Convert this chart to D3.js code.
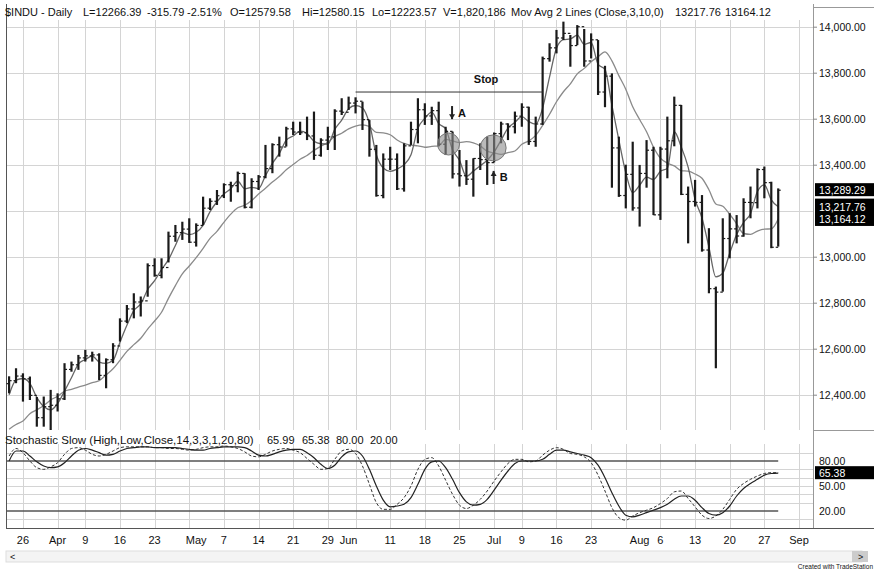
<!DOCTYPE html>
<html>
<head>
<meta charset="utf-8">
<script src="https://cdn.jsdelivr.net/npm/d3@7"></script>
<style>
body { margin: 0; background: #fff; }
text { font-family: "Liberation Sans", Arial, sans-serif; fill: #111; }
</style>
</head>
<body>
<svg id="chart"></svg>
<script>
// ---------------- data ----------------
var dates = ['2007-03-22','2007-03-23','2007-03-26','2007-03-27','2007-03-28','2007-03-29','2007-03-30',
'2007-04-02','2007-04-03','2007-04-04','2007-04-05','2007-04-09','2007-04-10','2007-04-11','2007-04-12','2007-04-13','2007-04-16','2007-04-17','2007-04-18','2007-04-19','2007-04-20','2007-04-23','2007-04-24','2007-04-25','2007-04-26','2007-04-27','2007-04-30',
'2007-05-01','2007-05-02','2007-05-03','2007-05-04','2007-05-07','2007-05-08','2007-05-09','2007-05-10','2007-05-11','2007-05-14','2007-05-15','2007-05-16','2007-05-17','2007-05-18','2007-05-21','2007-05-22','2007-05-23','2007-05-24','2007-05-25','2007-05-29','2007-05-30','2007-05-31',
'2007-06-01','2007-06-04','2007-06-05','2007-06-06','2007-06-07','2007-06-08','2007-06-11','2007-06-12','2007-06-13','2007-06-14','2007-06-15','2007-06-18','2007-06-19','2007-06-20','2007-06-21','2007-06-22','2007-06-25','2007-06-26','2007-06-27','2007-06-28','2007-06-29',
'2007-07-02','2007-07-03','2007-07-05','2007-07-06','2007-07-09','2007-07-10','2007-07-11','2007-07-12','2007-07-13','2007-07-16','2007-07-17','2007-07-18','2007-07-19','2007-07-20','2007-07-23','2007-07-24','2007-07-25','2007-07-26','2007-07-27','2007-07-30','2007-07-31',
'2007-08-01','2007-08-02','2007-08-03','2007-08-06','2007-08-07','2007-08-08','2007-08-09','2007-08-10','2007-08-13','2007-08-14','2007-08-15','2007-08-16','2007-08-17','2007-08-20','2007-08-21','2007-08-22','2007-08-23','2007-08-24','2007-08-27','2007-08-28','2007-08-29'];
var futureDates = ['2007-08-30','2007-08-31','2007-09-04'];

var opens = [12448,12461,12481,12469,12397,12300,12348,
12354,12382,12510,12530,12560,12569,12573,12484,12552,12612,12720,12773,12803,12808,12961,12919,12953,13089,13105,13120,
13063,13136,13211,13241,13265,13313,13309,13362,13215,13327,13347,13383,13487,13477,13556,13542,13539,13525,13441,13507,13521,13633,
13628,13668,13676,13596,13467,13266,13424,13424,13295,13482,13553,13639,13612,13635,13489,13545,13360,13352,13337,13427,13422,
13409,13535,13577,13565,13611,13650,13501,13577,13861,13908,13951,13971,13918,14000,13851,13943,13716,13785,13473,13266,13358,
13212,13362,13463,13182,13468,13504,13658,13271,13240,13236,13029,12861,12846,13079,13121,13090,13236,13235,13379,13322,13041];
var highs = [12480,12515,12493,12479,12390,12392,12421,
12406,12537,12544,12573,12595,12587,12580,12558,12624,12732,12790,12841,12827,12971,12993,12993,13109,13138,13152,13167,
13145,13261,13254,13290,13319,13326,13370,13363,13341,13355,13486,13493,13522,13565,13587,13587,13609,13631,13515,13565,13641,13689,
13696,13693,13674,13594,13486,13449,13478,13449,13493,13587,13689,13667,13652,13674,13565,13544,13464,13420,13428,13493,13522,
13540,13587,13580,13631,13667,13652,13609,13870,13928,13986,14022,13964,14007,13990,13971,13942,13830,13797,13522,13400,13500,
13399,13507,13478,13478,13609,13696,13660,13305,13334,13268,13124,12870,13167,13189,13181,13254,13305,13384,13392,13326,13297];
var lows = [12406,12450,12370,12377,12261,12261,12240,
12327,12377,12500,12508,12544,12544,12464,12428,12537,12631,12711,12732,12740,12826,12913,12906,12975,13065,13073,13060,
13044,13138,13203,13225,13255,13239,13280,13210,13210,13290,13341,13363,13435,13479,13529,13529,13507,13421,13435,13464,13464,13616,
13638,13623,13551,13435,13261,13254,13377,13290,13283,13486,13493,13573,13573,13480,13442,13340,13305,13312,13261,13377,13312,
13410,13493,13507,13536,13565,13486,13478,13573,13848,13884,13942,13826,13920,13826,13862,13703,13650,13300,13260,13210,13200,
13131,13300,13181,13160,13341,13480,13268,13058,13218,13022,12841,12515,12848,12993,13058,13087,13167,13210,13254,13037,13044];
var closes = [12461,12481,12469,12397,12300,12348,12354,
12382,12510,12530,12560,12569,12573,12484,12552,12612,12720,12773,12803,12808,12961,12919,12953,13089,13105,13120,13063,
13136,13211,13241,13265,13313,13309,13362,13215,13327,13347,13383,13487,13477,13556,13542,13539,13525,13441,13507,13521,13633,13628,
13668,13676,13596,13467,13266,13424,13424,13295,13482,13553,13639,13612,13635,13489,13545,13360,13352,13337,13427,13422,13409,
13535,13577,13565,13611,13650,13501,13577,13861,13908,13951,13971,13918,14000,13851,13943,13716,13785,13473,13266,13358,13212,
13362,13463,13182,13468,13504,13658,13271,13240,13236,13029,12861,12846,13079,13121,13090,13236,13235,13379,13322,13041,13289];
// closes before the first visible bar (Mar 9 - Mar 21), only feed the moving averages
var priorCloses = [12276,12318,12075,12134,12160,12111,12226,12289,12448];

// Stochastic Slow: dashed (SlowK) and solid (SlowD)
var slowK = [86,95,90,80,72,70,73,
78,88,95,96,93,88,86,88,92,96,97,97,97,97,96,96,95,95,94,93,
94,96,97,97,98,97,95,91,86,85,88,92,94,95,93,90,83,76,70,71,82,92,
94,89,74,52,30,22,22,28,36,50,70,82,84,74,57,40,27,23,27,34,44,
56,67,77,82,82,79,80,87,93,96,94,89,88,85,78,63,44,24,12,9,14,
18,21,24,29,35,43,44,35,25,15,11,14,22,34,46,53,58,62,65,66,65.99];
var slowD = [80,92,92,86,79,74,72,
73,78,86,93,95,93,90,87,88,92,95,96,97,97,96,96,96,96,95,94,
93,93,95,96,97,97,97,96,92,87,86,88,91,93,94,94,90,84,76,71,75,85,
91,92,86,70,50,33,25,26,28,36,52,70,79,80,72,58,42,31,27,28,34,
45,57,68,77,80,80,80,82,88,93,93,91,89,87,84,75,60,42,26,15,13,
15,18,21,24,28,34,38,38,33,24,17,15,18,26,38,47,53,58,63,65,65.38];

var priceTicks = [12400,12600,12800,13000,13400,13600,13800,14000];
var priceGrid = [12400,12600,12800,13000,13200,13400,13600,13800,14000];
var stochGrid = [10,30,40,50,60,70,90];
var stochLevels = [20,80];
var stochTickVals = [80,50,20];

var gridDates = ['2007-03-26','2007-04-02','2007-04-09','2007-04-16','2007-04-23','2007-04-30','2007-05-07','2007-05-14','2007-05-21','2007-05-29',
'2007-06-04','2007-06-11','2007-06-18','2007-06-25','2007-07-02','2007-07-09','2007-07-16','2007-07-23','2007-07-30','2007-08-06','2007-08-13','2007-08-20','2007-08-27','2007-09-04'];
var labelDates = ['2007-03-26','2007-04-02','2007-04-09','2007-04-16','2007-04-23','2007-05-01','2007-05-07','2007-05-14','2007-05-21','2007-05-29','2007-06-01',
'2007-06-11','2007-06-18','2007-06-25','2007-07-02','2007-07-09','2007-07-16','2007-07-23','2007-08-01','2007-08-06','2007-08-13','2007-08-20','2007-08-27','2007-09-04'];
var labelText = ['26','Apr','9','16','23','May','7','14','21','29','Jun','11','18','25','Jul','9','16','23','Aug','6','13','20','27','Sep'];

var lastBoxes = [13289.29];
var maBoxes = [13217.76, 13164.12];
var stochBox = 65.38;

var titleParts = ['$INDU - Daily','L=12266.39','-315.79','-2.51%','O=12579.58','Hi=12580.15','Lo=12223.57','V=1,820,186','Mov Avg 2 Lines (Close,3,10,0)','13217.76','13164.12'];
var stochParts = ['Stochastic Slow (High,Low,Close,14,3,3,1,20,80)','65.99','65.38','80.00','20.00'];

// ---------------- layout ----------------
var W = 874, H = 571;
var left = 6, axisX = 813;
var priceTop = 20, priceBottom = 430;
var stochTop = 444, stochBottom = 528;

var svg = d3.select('#chart').attr('width', W).attr('height', H);

var x = d3.scalePoint().domain(dates.concat(futureDates)).range([9.1, 799]);
var y = d3.scaleLinear().domain([12400, 14000]).range([394.7, 26.7]);
var ys = d3.scaleLinear().domain([20, 80]).range([511, 461]);

var bars = dates.map(function(d, i) {
    return {date: d, o: opens[i], h: highs[i], l: lows[i], c: closes[i]};
});

// moving averages from the closes
var allCloses = priorCloses.concat(closes);
function movAvg(n) {
    return dates.map(function(d, i) {
        var k = i + priorCloses.length;
        return {date: d, v: d3.mean(allCloses.slice(k - n + 1, k + 1))};
    });
}
var ma3 = movAvg(3), ma10 = movAvg(10);

// ---------------- grid ----------------
var grid = svg.append('g').attr('stroke', '#d4d4d4').attr('stroke-width', 1);
grid.selectAll('.vg').data(gridDates).join('line')
    .attr('x1', function(d) { return Math.round(x(d)) + 0.5; })
    .attr('x2', function(d) { return Math.round(x(d)) + 0.5; })
    .attr('y1', priceTop).attr('y2', priceBottom);
grid.selectAll('.vgs').data(gridDates).join('line')
    .attr('x1', function(d) { return Math.round(x(d)) + 0.5; })
    .attr('x2', function(d) { return Math.round(x(d)) + 0.5; })
    .attr('y1', stochTop).attr('y2', stochBottom);
grid.selectAll('.hg').data(priceGrid).join('line')
    .attr('x1', left).attr('x2', axisX)
    .attr('y1', function(d) { return Math.round(y(d)) + 0.5; })
    .attr('y2', function(d) { return Math.round(y(d)) + 0.5; });
grid.selectAll('.hgs').data(stochGrid).join('line')
    .attr('x1', left).attr('x2', axisX)
    .attr('y1', function(d) { return Math.round(ys(d)) + 0.5; })
    .attr('y2', function(d) { return Math.round(ys(d)) + 0.5; });

// frame lines
svg.append('line').attr('x1', left + 0.5).attr('x2', left + 0.5).attr('y1', 4).attr('y2', stochBottom).attr('stroke', '#555');
svg.append('line').attr('x1', axisX + 0.5).attr('x2', axisX + 0.5).attr('y1', 4).attr('y2', stochBottom).attr('stroke', '#999');
svg.append('line').attr('x1', left).attr('x2', W).attr('y1', stochBottom + 0.5).attr('y2', stochBottom + 0.5).attr('stroke', '#555');
svg.append('line').attr('x1', axisX).attr('x2', W).attr('y1', 7.5).attr('y2', 7.5).attr('stroke', '#999');
svg.append('line').attr('x1', axisX).attr('x2', W).attr('y1', priceBottom + 0.5).attr('y2', priceBottom + 0.5).attr('stroke', '#999');

// ---------------- price panel ----------------
svg.append('clipPath').attr('id', 'pclip').append('rect')
    .attr('x', left).attr('y', priceTop - 2).attr('width', axisX - left).attr('height', priceBottom - priceTop + 2);
var pg = svg.append('g').attr('clip-path', 'url(#pclip)');

var line = d3.line().x(function(d) { return x(d.date); }).y(function(d) { return y(d.v); }).curve(d3.curveMonotoneX);
pg.append('path').datum(ma10).attr('d', line).attr('fill', 'none').attr('stroke', '#8a8a8a').attr('stroke-width', 1.3);
pg.append('path').datum(ma3).attr('d', line).attr('fill', 'none').attr('stroke', '#666').attr('stroke-width', 1.3);

var bg = pg.append('g').attr('stroke', '#1a1a1a');
bg.selectAll('.hl').data(bars).join('line')
    .attr('x1', function(d) { return x(d.date); }).attr('x2', function(d) { return x(d.date); })
    .attr('y1', function(d) { return y(d.h); }).attr('y2', function(d) { return y(d.l); })
    .attr('stroke-width', 2.2);
bg.selectAll('.op').data(bars).join('line')
    .attr('x1', function(d) { return x(d.date) - 2.5; }).attr('x2', function(d) { return x(d.date); })
    .attr('y1', function(d) { return y(d.o); }).attr('y2', function(d) { return y(d.o); })
    .attr('stroke-width', 1.2);
bg.selectAll('.cl').data(bars).join('line')
    .attr('x1', function(d) { return x(d.date); }).attr('x2', function(d) { return x(d.date) + 2.5; })
    .attr('y1', function(d) { return y(d.c); }).attr('y2', function(d) { return y(d.c); })
    .attr('stroke-width', 1.2);

// annotations
var stop = {from: '2007-06-04', to: '2007-07-12', price: 13716};
pg.append('line').attr('x1', x(stop.from)).attr('x2', x(stop.to))
    .attr('y1', y(stop.price)).attr('y2', y(stop.price)).attr('stroke', '#333').attr('stroke-width', 1);
svg.append('text').attr('x', (x(stop.from) + x(stop.to)) / 2 + 37).attr('y', y(stop.price) - 9)
    .attr('text-anchor', 'middle').style('font-size', '11px').style('font-weight', 'bold').text('Stop');

// circles: date anchor plus a small shift in pixels
var circles = [{date: '2007-06-22', price: 13490, r: 11, shift: -4}, {date: '2007-07-02', price: 13473, r: 13, shift: -1}];
pg.selectAll('.circ').data(circles).join('circle')
    .attr('cx', function(d) { return x(d.date) + d.shift; }).attr('cy', function(d) { return y(d.price); })
    .attr('r', function(d) { return d.r; })
    .attr('fill', '#8c8c8c').attr('fill-opacity', 0.6).attr('stroke', '#777');

var arrows = [{date: '2007-06-22', top: 13655, bottom: 13598, dir: 'down', label: 'A'},
              {date: '2007-07-02', top: 13373, bottom: 13316, dir: 'up', label: 'B'}];
arrows.forEach(function(a) {
    var ax = x(a.date) - 0.5, y1 = y(a.top), y2 = y(a.bottom);
    svg.append('line').attr('x1', ax).attr('x2', ax).attr('y1', y1).attr('y2', y2).attr('stroke', '#222').attr('stroke-width', 2);
    var tip = a.dir === 'down' ? y2 : y1, s = a.dir === 'down' ? -1 : 1;
    svg.append('path').attr('d', 'M' + (ax - 3) + ',' + (tip + s * 5) + 'L' + ax + ',' + tip + 'L' + (ax + 3) + ',' + (tip + s * 5) + 'Z').attr('fill', '#222');
    svg.append('text').attr('x', ax + 6).attr('y', (y1 + y2) / 2 + 4).style('font-size', '11px').style('font-weight', 'bold').text(a.label);
});

// price axis
var pAxis = svg.append('g').attr('transform', 'translate(' + axisX + ',0)')
    .call(d3.axisRight(y).tickValues(priceTicks).tickFormat(d3.format(',.2f')).tickSize(4));
pAxis.select('.domain').remove();
pAxis.selectAll('text').style('font-size', '10.5px').attr('x', 6);
pAxis.selectAll('line').attr('stroke', '#888');

// last value boxes
svg.selectAll('.lb').data(lastBoxes).join('rect')
    .attr('x', axisX + 2).attr('y', function(d) { return y(d) - 7; }).attr('width', W - axisX - 2).attr('height', 13).attr('fill', '#000');
svg.selectAll('.lbt').data(lastBoxes).join('text')
    .attr('x', axisX + 6).attr('y', function(d) { return y(d) + 4; })
    .style('fill', '#fff').style('font-size', '10.5px').text(d3.format(',.2f'));
svg.append('rect').attr('x', axisX + 2).attr('y', y(maBoxes[0]) - 8).attr('width', W - axisX - 2)
    .attr('height', y(maBoxes[1]) - y(maBoxes[0]) + 15).attr('fill', '#000');
svg.selectAll('.mbt').data(maBoxes).join('text')
    .attr('x', axisX + 6).attr('y', function(d) { return y(d) + 4; })
    .style('fill', '#fff').style('font-size', '10.5px').text(d3.format(',.2f'));

// title
var titleX = [5, 83, 147, 187, 230, 302, 372, 443, 511, 675, 725];
svg.selectAll('.tt').data(titleParts).join('text')
    .attr('x', function(d, i) { return titleX[i]; }).attr('y', 16)
    .style('font-size', '11px').text(function(d) { return d; });

// ---------------- stochastic panel ----------------
svg.selectAll('.lv').data(stochLevels).join('line')
    .attr('x1', left).attr('x2', x(dates[dates.length - 1]))
    .attr('y1', function(d) { return ys(d); }).attr('y2', function(d) { return ys(d); })
    .attr('stroke', '#555').attr('stroke-width', 1.3);

var sline = d3.line().x(function(d, i) { return x(dates[i]); }).y(function(d) { return ys(d); }).curve(d3.curveMonotoneX);
svg.append('path').datum(slowK).attr('d', sline).attr('fill', 'none').attr('stroke', '#333').attr('stroke-width', 1).attr('stroke-dasharray', '3,2');
svg.append('path').datum(slowD).attr('d', sline).attr('fill', 'none').attr('stroke', '#222').attr('stroke-width', 1.2);

var stochX = [5, 267, 302, 336, 370];
svg.selectAll('.st').data(stochParts).join('text')
    .attr('x', function(d, i) { return stochX[i]; }).attr('y', 444)
    .style('font-size', function(d, i) { return i === 0 ? '11.5px' : '11px'; })
    .text(function(d) { return d; });

svg.selectAll('.stl').data(stochTickVals).join('text')
    .attr('x', axisX + 6).attr('y', function(d) { return ys(d) + 4; })
    .style('font-size', '10.5px').text(d3.format('.2f'));
svg.append('rect').attr('x', axisX + 2).attr('y', ys(stochBox) - 7).attr('width', W - axisX - 2).attr('height', 13).attr('fill', '#000');
svg.append('text').attr('x', axisX + 6).attr('y', ys(stochBox) + 4).style('fill', '#fff').style('font-size', '10.5px').text(d3.format('.2f')(stochBox));

// ---------------- date axis ----------------
svg.selectAll('.xl').data(labelDates).join('text')
    .attr('x', function(d) { return x(d); }).attr('y', 544)
    .attr('text-anchor', 'middle').style('font-size', '11px')
    .text(function(d, i) { return labelText[i]; });

// scroll bar
svg.append('rect').attr('x', left).attr('y', 551).attr('width', 862 - left).attr('height', 11).attr('fill', '#f4f4f4').attr('stroke', '#ddd');
svg.append('rect').attr('x', 852).attr('y', 551).attr('width', 16).attr('height', 11).attr('fill', '#ccc');
svg.append('text').attr('x', 10).attr('y', 560).style('font-size', '9px').text('<');
svg.append('text').attr('x', 858).attr('y', 560).style('font-size', '9px').text('>');
svg.append('text').attr('x', 873).attr('y', 569).attr('text-anchor', 'end').style('font-size', '6.5px').text('Created with TradeStation');
</script>
</body>
</html>
